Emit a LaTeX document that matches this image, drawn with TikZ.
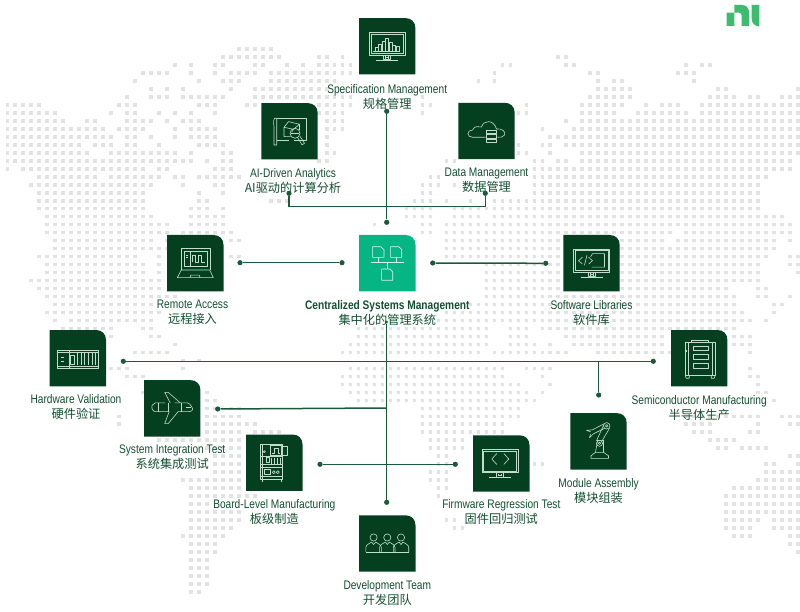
\documentclass[tikz,border=0pt]{standalone}
\usepackage{fontspec}
\setmainfont[FakeStretch=0.82]{Liberation Sans}
\newfontfamily\cjk{Noto Sans CJK SC}
\usetikzlibrary{positioning}
\definecolor{tilegreen}{HTML}{04401F}
\definecolor{hubgreen}{HTML}{05B584}
\definecolor{linegreen}{HTML}{1B5A39}
\definecolor{labelgreen}{HTML}{124F30}
\definecolor{iconline}{HTML}{C4DCCB}
\definecolor{mapgrey}{HTML}{E2E2E2}
\definecolor{logogreen}{HTML}{3DBB6F}
\newcommand{\cn}[1]{{\cjk\fontsize{12.2}{15}\selectfont #1}}
\newcommand{\maprow}[2]{%
  \foreach \ca/\cb in {#2} {
    \foreach \c in {\ca,...,\cb} {
      \fill[mapdot] (5.5+7.985*\c, 47.2+7.985*#1) rectangle +(3.6,3.6);
    }
  }
}
\newcommand{\monitorart}{%
  \draw (-18,-14) rectangle (18,9);
  \draw (-16.4,-12.4) rectangle (16.4,7.4);
  \draw (-3.5,9) rectangle (3.5,13.5);
  \draw (-11,13.7) -- (11,13.7);
  \draw (-1.5,10) -- (-1.5,12.6) (1.5,10) -- (1.5,12.6) (-1.5,11.3) -- (1.5,11.3);
}
\tikzset{
  tile/.style={minimum size=56pt, inner sep=0pt, append after command={\pgfextra{
    \fill[#1] (\tikzlastnode.south west) -- (\tikzlastnode.north west)
      -- ([xshift=-10pt]\tikzlastnode.north east)
      .. controls ([xshift=-4pt]\tikzlastnode.north east) and ([yshift=-4pt]\tikzlastnode.north east) ..
      ([yshift=-10pt]\tikzlastnode.north east) -- (\tikzlastnode.south east) -- cycle;}}},
  tile/.default=tilegreen,
  lbl/.style={align=center, text=labelgreen, inner sep=0pt, font=\fontsize{12.4}{15}\selectfont},
  dotend/.style={circle, fill=linegreen, inner sep=0pt, minimum size=5.2pt},
  link/.style={draw=linegreen, line width=1.5pt},
  icon/.style={draw=iconline, line width=.6pt, line join=round},
  mapdot/.style={fill=mapgrey}
}
\begin{document}
\begin{tikzpicture}[x=1pt, y=-1pt]
\useasboundingbox (0,0) rectangle (800,612);
\maprow{0}{29/33}
\maprow{1}{27/34,39/40,42/42,69/70}
\maprow{2}{21/21,23/23,26/27,31/32,35/35,37/37,39/43,62/63,70/71,85/85,87/88}
\maprow{3}{17/20,23/23,26/26,28/31,33/43,61/61,73/74,84/86}
\maprow{4}{16/16,24/24,27/29,33/41,59/59,61/61,74/74,76/77,86/86}
\maprow{5}{18/18,20/20,22/22,28/28,31/40,74/78,89/90,99/99}
\maprow{6}{15/15,18/20,22/27,31/43,52/52,73/78,88/91,93/94,97/99}
\maprow{7}{0/4,14/16,24/26,30/31,39/43,52/53,65/65,72/77,80/80,82/84,87/99}
\maprow{8}{0/6,13/13,15/16,19/19,21/21,23/23,26/26,39/42,52/52,64/65,72/76,79/85,87/99}
\maprow{9}{0/7,10/11,15/18,20/20,22/24,40/42,70/70,72/99}
\maprow{10}{0/12,14/17,21/21,23/26,40/42,67/67,71/99}
\maprow{11}{0/13,15/16,18/18,21/21,23/26,40/40,68/99}
\maprow{12}{0/9,11/13,15/16,19/19,24/27,40/40,64/64,67/68,70/99}
\maprow{13}{0/10,13/21,23/23,27/28,40/41,64/65,68/68,72/99}
\maprow{14}{0/23,25/25,27/28,39/40,55/56,66/67,69/70,72/98}
\maprow{15}{0/0,2/17,19/20,26/28,66/98}
\maprow{16}{4/11,13/19,21/22,24/29,53/54,66/95}
\maprow{17}{3/18,22/22,26/27,52/54,56/56,66/94}
\maprow{18}{4/17,24/24,27/27,52/53,66/94}
\maprow{19}{4/17,24/25,33/35,51/53,55/55,58/58,61/94}
\maprow{20}{4/17,23/25,27/27,50/53,56/94}
\maprow{21}{5/18,23/27,50/53,56/59,61/97}
\maprow{22}{5/20,23/27,46/46,52/53,55/98}
\maprow{23}{5/20,22/28,52/53,55/83,85/98}
\maprow{24}{6/18,20/20,28/29,55/82,84/96,98/98}
\maprow{25}{6/20,55/96}
\maprow{26}{4/16,19/19,28/29,55/95,98/99}
\maprow{27}{5/17,19/19,60/94,98/99}
\maprow{28}{5/17,19/19,60/94,99/99}
\maprow{29}{3/19,60/94}
\maprow{30}{4/19,60/90,94/95}
\maprow{31}{5/21,60/91,94/95,98/98}
\maprow{32}{6/18,58/91,96/97}
\maprow{33}{5/19,55/92,96/96}
\maprow{34}{6/6,8/18,54/93,95/95}
\maprow{35}{7/13,17/18,44/60,63/65,67/91}
\maprow{36}{13/13,18/19,44/60,63/65,70/82,91/93}
\maprow{37}{21/21,43/60,63/66,68/68,71/82,91/93}
\maprow{38}{16/20,42/59,61/70,74/83,93/93}
\maprow{39}{22/22,24/24}
\maprow{40}{13/15,22/22,43/62,65/68,93/93}
\maprow{41}{15/17,42/62,67/67,93/94}
\maprow{42}{42/64,68/68,94/94}
\maprow{43}{17/17,25/25,43/65,67/67,94/95}
\maprow{44}{25/26,44/66,96/96}
\maprow{45}{25/26,28/29,52/64}
\maprow{46}{14/14,25/29,52/64,85/94,97/99}
\maprow{47}{14/14,25/31,52/62,85/88,94/94,98/99}
\maprow{48}{25/29,31/34,52/62,86/88,93/94}
\maprow{49}{19/29,53/57,88/91}
\maprow{50}{25/29,53/57,89/90,92/95}
\maprow{51}{26/29,54/55,98/99}
\maprow{52}{26/29,54/55,66/67,95/96,99/99}
\maprow{53}{26/29,53/55,95/99}
\maprow{54}{22/29,53/55,94/99}
\maprow{55}{23/29,54/55,91/99}
\maprow{56}{23/31,54/54,90/99}
\maprow{57}{23/25,90/99}
\maprow{58}{23/29,90/99}
\maprow{59}{23/29,55/56,90/94,96/99}
\maprow{60}{23/28,56/57,90/93,96/99}
\maprow{61}{22/27,91/93,98/99}
\maprow{62}{23/26,98/99}
\maprow{63}{23/26,99/99}
\maprow{64}{23/25}
\maprow{65}{23/25}
\maprow{66}{23/25}
\maprow{67}{23/25}
\maprow{68}{23/24}

\node[tile] (spec) at (387.2,46.3) {};
\node[tile] (ai) at (289.5,131.3) {};
\node[tile] (data) at (486.5,131) {};
\node[tile] (remote) at (195.3,263.2) {};
\node[tile=hubgreen] (hub) at (387.3,263.2) {};
\node[tile] (software) at (591.5,263.2) {};
\node[tile] (hardware) at (77.8,358.2) {};
\node[tile] (semi) at (699.2,358.2) {};
\node[tile] (system) at (172.2,408.3) {};
\node[tile] (board) at (274.3,462.7) {};
\node[tile] (firmware) at (501.3,463.5) {};
\node[tile] (module) at (598.5,441.3) {};
\node[tile] (dev) at (387.3,543.5) {};

\node[lbl, below=9.5pt of spec] (specl) {Specification Management\\\cn{规格管理}};
\node[lbl, below=8.5pt of ai, xshift=3.5pt] (ail) {AI-Driven Analytics\\\cn{AI驱动的计算分析}};
\node[lbl, below=8.5pt of data] (datal) {Data Management\\\cn{数据管理}};
\node[lbl, below=8.5pt of remote, xshift=-2.8pt] (remotel) {Remote Access\\\cn{远程接入}};
\node[lbl, below=8.5pt of hub] (hubl) {\bfseries Centralized Systems Management\\\cn{集中化的管理系统}};
\node[lbl, below=8.5pt of software] (softwarel) {Software Libraries\\\cn{软件库}};
\node[lbl, below=8pt of hardware, xshift=-1.8pt] (hardwarel) {Hardware Validation\\\cn{硬件验证}};
\node[lbl, below=8.5pt of semi] (semil) {Semiconductor Manufacturing\\\cn{半导体生产}};
\node[lbl, below=8pt of system] (systeml) {System Integration Test\\\cn{系统集成测试}};
\node[lbl, below=8.5pt of board] (boardl) {Board-Level Manufacturing\\\cn{板级制造}};
\node[lbl, below=8pt of firmware] (firmwarel) {Firmware Regression Test\\\cn{固件回归测试}};
\node[lbl, below=8.5pt of module] (modulel) {Module Assembly\\\cn{模块组装}};
\node[lbl, below=8.5pt of dev] (devl) {Development Team\\\cn{开发团队}};

\node[dotend] (specdot) at (386.7,111.3) {};
\node[dotend] (hubtop) at (386.7,222.3) {};
\node[dotend] (aidot) at (289,193.3) {};
\node[dotend] (datadot) at (485.3,193.3) {};
\node[dotend] (remotedot) at (240,262.7) {};
\node[dotend] (hubleft) at (342,262.7) {};
\node[dotend] (hubright) at (432.7,263) {};
\node[dotend] (softdot) at (545.7,263.3) {};
\node[dotend, minimum size=3pt] (hubbot) at (386.7,322) {};
\node[dotend] (devdot) at (386.7,502.3) {};
\node[dotend] (hwdot) at (123.3,361.3) {};
\node[dotend] (semidot) at (653.3,361.3) {};
\node[dotend] (moddot) at (598.7,395) {};
\node[dotend] (sysdot) at (217.7,409) {};
\node[dotend] (boarddot) at (320,464.3) {};
\node[dotend] (fwdot) at (455.3,464.3) {};
\coordinate (topjoin) at (386.7,206.7);
\coordinate (modjoin) at (598.7,361.3);
\coordinate (sysjoin) at (386.7,408);

\draw[link] (specdot) -- (hubtop);
\draw[link] (aidot) |- (topjoin) -| (datadot);
\draw[link] (remotedot) -- (hubleft);
\draw[link] (hubright) -- (softdot);
\draw[link] (hubbot) -- (devdot);
\draw[link, line width=1.2pt] (hwdot) -- (semidot);
\draw[link, line width=1.2pt] (moddot) -- (modjoin);
\draw[link] (sysdot) -- (sysjoin);
\draw[link, line width=1.2pt] (boarddot) -- (fwdot);

\fill[logogreen] (726.7,26) -- (726.7,12.7) -- (734.3,12.7) -- (734.3,5) -- (742,5)
  .. controls (746,5) and (749,8) .. (749,12) -- (749,26) -- (741.7,26) -- (741.7,15.5)
  .. controls (741.7,14) and (740.5,12.7) .. (739,12.7) -- (734.3,12.7) -- (734.3,26) -- cycle;
\fill[logogreen] (751.7,5) -- (759.3,5) -- (759.3,26.5) .. controls (755,26.5) and (751.7,23) .. (751.7,19) -- cycle;

\begin{scope}[shift={(spec.center)}, icon]
  \monitorart
  \foreach \bx/\bh in {-12/4,-8.5/7,-5/10,-1.5/13,2/9,5.5/6,9/5}
    \draw (\bx,4.6) rectangle (\bx+3,4.6-\bh);
  \draw (-14,4.6) -- (13,4.6);
\end{scope}

\begin{scope}[shift={(ai.center)}, icon]
  \draw (-12.8,-13) -- (17.2,-13) -- (17.2,8.7) -- (4,8.7);
  \draw (-12.8,8.7) -- (-1,8.7);
  \draw (-12.8,-13) -- (-15,-13) .. controls (-17,-10) and (-15,-6) .. (-15.5,0) -- (-15.5,13.7) -- (-12.8,13.7) -- (-12.8,-13);
  \draw (-5.5,-4) -- (-1,-9.7) -- (10,-7) -- (10,-1) (-5.5,-4) -- (-5.5,5.3) -- (1,5.3) (-5.5,-4) -- (4,-2) -- (10,-7) (4,-2) -- (2,1);
  \draw (5.5,2) circle (5);
  \draw (1.5,2) -- (9.5,2);
  \draw (8,6) -- (12.5,13.5) -- (15,12) -- (10.5,5);
\end{scope}

\begin{scope}[shift={(data.center)}, icon]
  \draw (-1,6.3) -- (-14,6.3) .. controls (-20,6.3) and (-20,-1) .. (-14,-1)
    .. controls (-12,-5) and (-8,-5) .. (-5,-4) .. controls (-3,-11) and (7,-12) .. (10,-2)
    .. controls (15,-3) and (20,1) .. (18,4) .. controls (17,6.3) and (14,6.3) .. (11,6.3);
  \draw (0.2,-0.7) rectangle (10,2.7);
  \draw (0.2,3.7) rectangle (10,7);
  \draw (0.2,8) rectangle (10,11.3);
\end{scope}

\begin{scope}[shift={(remote.center)}, icon]
  \draw (-14,6.8) -- (-14,-14.8) -- (14.5,-14.8) -- (14.5,6.8);
  \draw (-11.5,-12) rectangle (12,3.5);
  \draw (-5,-12) -- (-5,3.5);
  \draw (-14,6.8) -- (-18,14.5) -- (18,14.5) -- (14.5,6.8) -- cycle;
  \draw (-5.3,14.5) -- (-4.5,12) -- (4,12) -- (4.8,14.5);
  \draw (-3.5,-1) -- (-3.5,-8) -- (-0.5,-8) -- (-0.5,-1) -- (3,-1) -- (3,-8) -- (6,-8) -- (6,-1) -- (9.5,-1);
  \draw (-9,-8) -- (-7,-8) (-9,-5.5) -- (-7,-5.5);
\end{scope}

\begin{scope}[shift={(hub.center)}, draw=white!85!hubgreen, line width=.7pt, line join=round]
  \draw (-14.7,-16.5) -- (-6.5,-16.5) -- (-3.3,-13.5) -- (-3.3,-5.8) -- (-14.7,-5.8) -- cycle;
  \draw (3.3,-16.5) -- (11.5,-16.5) -- (14.5,-13.5) -- (14.5,-5.8) -- (3.3,-5.8) -- cycle;
  \draw (-5.7,5.8) -- (2.5,5.8) -- (5.5,8.8) -- (5.5,17) -- (-5.7,17) -- cycle;
  \draw (-16.7,-.5) -- (16.7,-.5);
  \draw (-9,-5.8) -- (-9,-.5) (9,-5.8) -- (9,-.5) (0,-.5) -- (0,5.8);
\end{scope}

\begin{scope}[shift={(software.center)}, icon]
  \monitorart
  \draw (-9,1) -- (-13,-2.5) -- (-9,-6);
  \draw (-7,2) -- (-4.5,-8);
  \draw (-3,1) -- (1,-2.5) -- (-3,-6);
  \draw (-1,-6.5) -- (1,-9.5) -- (13,-9.5) -- (13,4) -- (0,4);
\end{scope}

\begin{scope}[shift={(hardware.center)}, icon, line width=.8pt]
  \draw (-20.5,-8.2) rectangle (20.8,10);
  \draw (-20.5,-6) -- (20.8,-6);
  \draw (-8.5,-8.2) -- (-8.5,10);
  \draw (-20.5,8) -- (20.8,8);
  \foreach \vx in {0,3.5,7,11,14.5,18}
    \draw (\vx,-5) -- (\vx,7);
  \draw (-17,-1) -- (-14,-1) (-17,3) -- (-14,3);
  \draw (-7,-3) rectangle (-3,6);
\end{scope}

\begin{scope}[shift={(semi.center)}, icon]
  \draw (-14,-15.5) rectangle (16,17);
  \draw (-11,-15.5) -- (-11,17) (13,-15.5) -- (13,17);
  \draw (-7.5,-15.5) -- (-7.5,-18) -- (9,-18) -- (9,-15.5);
  \draw (-5.8,-12) rectangle (9,-7.5);
  \draw (-5.8,-4) rectangle (9,.8);
  \draw (-5.8,5) rectangle (9,9.8);
  \draw (-14,17) -- (-13,20) -- (-10,20) -- (-10,17) (16,17) -- (15,20) -- (12,20) -- (12,17);
  \draw (-12.5,-8) -- (-12.5,-6);
\end{scope}

\begin{scope}[shift={(system.center)}, icon]
  \draw (-20,-3) -- (-17,-5.5) -- (-7,-5.5) (2.5,-5.5) -- (15,-5.5) .. controls (18,-5) and (20,-1) .. (20.5,1)
    .. controls (20,2.5) and (19,3.3) .. (17,3.3) -- (6,3.3) (-3,3.3) -- (-17,3.3) .. controls (-20,3) and (-21,-1) .. (-20,-3);
  \draw (-7.5,-16) -- (-4,-16) -- (8,-5.5) (-7.5,-16) -- (-2,-5.5);
  \draw (-7.5,15.3) -- (-4,15.3) -- (6,3.3) (-7.5,15.3) -- (-3,3.3);
  \draw (-14,-5.5) -- (-14,3.3) (-4,-5.5) -- (-4,3.3) (9,-5.5) -- (9,3.3);
  \draw (14,-1) -- (19,-1);
\end{scope}

\begin{scope}[shift={(board.center)}, icon]
  \draw (-13.7,-18.7) rectangle (8.3,16.7);
  \draw (-11.7,-18.7) -- (-11.7,16.7);
  \draw (-4,-17) rectangle (7,-7);
  \draw (-2,-9.5) -- (0,-9.5) -- (0,-14.5) -- (3.5,-14.5) -- (3.5,-9.5) -- (5.5,-9.5);
  \draw (8.3,-16.7) rectangle (13,-7.7);
  \draw (-13.7,-6) -- (8.3,-6) (-13.7,1.5) -- (8.3,1.5) (-13.7,5) -- (8.3,5) (-13.7,13.5) -- (8.3,13.5);
  \draw (-8,-5) rectangle (-5,0) (-3,-5) -- (-3,1) (0,-5) -- (0,1) (3,-5) -- (3,1) (6,-5) -- (6,1);
  \draw (-10,6.5) rectangle (-4,12);
  \draw (-.5,9.5) circle (1.5) (3.5,9.5) circle (1.5);
  \draw (-12,16.7) -- (-12,19) (6.5,16.7) -- (6.5,19);
  \draw (-10,-11) circle (1);
\end{scope}

\begin{scope}[shift={(firmware.center)}, icon]
  \begin{scope}[xshift=-1.5pt]
    \monitorart
    \draw (-3,-10) -- (-8,-4.5) -- (-3,1);
    \draw (4,-10) -- (9,-4.5) -- (4,1);
  \end{scope}
\end{scope}

\begin{scope}[shift={(module.center)}, icon]
  \draw (-7.5,17) -- (-7.5,14.5) -- (-3,11) -- (5,11) -- (10,14.5) -- (10,17) -- cycle;
  \draw (-3,11) -- (-1,-1) -- (5,-1) -- (5,11);
  \draw (1,2) circle (3);
  \draw (1,2) circle (1.2);
  \draw (-2,-.5) -- (5,-16) (3,.5) -- (11,-13);
  \draw (8.2,-15.5) circle (3.2);
  \draw (8.2,-15.5) circle (1.3);
  \draw (5.5,-17.5) -- (-6,-11.5) (6,-13) -- (-5,-7.5);
  \draw (-6,-11.5) -- (-12,-11) (-12,-11) -- (-8,-9.5) (-5,-7.5) -- (-9,-3.5) -- (-8,-7);
\end{scope}

\begin{scope}[shift={(dev.center)}, icon]
  \foreach \px in {-13.7,0,13.7} {
    \draw (\px,-6) circle (3.6);
    \draw (\px-7.7,8.3) -- (\px-7.7,4) .. controls (\px-7.7,1) and (\px-4,.3) .. (\px-2,-1.5)
      -- (\px,1) -- (\px+2,-1.5) .. controls (\px+4,.3) and (\px+7.7,1) .. (\px+7.7,4) -- (\px+7.7,8.3);
  }
  \draw (-21.4,8.3) -- (21.4,8.3);
\end{scope}
\end{tikzpicture}
\end{document}
